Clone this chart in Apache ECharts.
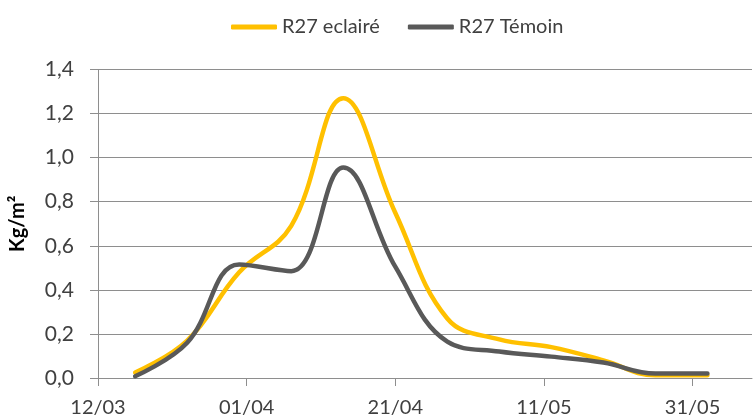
<!DOCTYPE html>
<html>
<head>
<meta charset="utf-8">
<script src="https://cdn.jsdelivr.net/npm/echarts@6/dist/echarts.min.js"></script>
<style>
html,body{margin:0;padding:0;background:#fff;}
#chart{width:753px;height:418px;}
</style>
</head>
<body>
<div id="chart"></div>
<script>
// Sampling dates (dd/mm)
const dates = ['17/03','24/03','31/03','07/04','14/04','21/04','28/04','05/05','12/05','19/05','26/05','02/06'];
// Series values (Kg/m²)
const eclaire = [0.025, 0.17, 0.48, 0.69, 1.27, 0.75, 0.27, 0.175, 0.14, 0.08, 0.012, 0.012];
const temoin  = [0.008, 0.16, 0.515, 0.485, 0.955, 0.505, 0.165, 0.12, 0.097, 0.07, 0.02, 0.02];
// X tick labels (every 20 days from 12/03)
const xTickLabels = ['12/03','01/04','21/04','11/05','31/05'];
const seriesNames = ['R27 eclairé','R27 Témoin'];

const origin = new Date(2013, 2, 12);
function dayOffset(s){
  const [d,m] = s.split('/').map(Number);
  return Math.round((new Date(2013, m-1, d) - origin) / 86400000);
}
const xs = dates.map(dayOffset);
const tickValues = xTickLabels.map(dayOffset);

const FONT = 'Lato';
const TXT = '#404040';
const GRID = '#8e8e8e';

const chart = echarts.init(document.getElementById('chart'), null, {renderer:'canvas'});
chart.setOption({
  animation:false,
  backgroundColor:'#fff',
  textStyle:{fontFamily:FONT},
  legend:{
    left:226, top:12,
    itemWidth:46, itemHeight:5, itemGap:28,
    icon:'roundRect',
    textStyle:{fontFamily:FONT, fontSize:20, color:TXT},
    data:seriesNames
  },
  grid:{left:92, top:69.5, right:1, bottom:40, containLabel:false},
  xAxis:{
    type:'value', min:0, max:88,
    axisLine:{show:true, lineStyle:{color:GRID, width:1}},
    axisTick:{show:true, length:8, customValues:tickValues, lineStyle:{color:GRID}},
    splitLine:{show:false},
    axisLabel:{
      customValues:tickValues,
      margin:20,
      fontFamily:FONT, fontSize:20, color:TXT,
      formatter:function(v){ const i = tickValues.indexOf(Math.round(v)); return i>=0 ? xTickLabels[i] : ''; }
    }
  },
  yAxis:{
    type:'value', min:0, max:1.4, interval:0.2,
    name:'Kg/m²', nameLocation:'middle', nameGap:70, nameRotate:90,
    nameTextStyle:{fontFamily:FONT, fontSize:20, fontWeight:'bold', color:'#000'},
    axisLine:{show:true, lineStyle:{color:GRID, width:1}},
    axisTick:{show:true, length:8, lineStyle:{color:GRID}},
    splitLine:{show:true, lineStyle:{color:GRID, width:1}},
    axisLabel:{
      margin:24, fontFamily:FONT, fontSize:21, color:TXT,
      formatter:function(v){ return v.toFixed(1).replace('.', ','); }
    }
  },
  series:[
    {name:seriesNames[0], type:'line', data:xs.map((x,i)=>[x,eclaire[i]]), smooth:0.4, symbol:'none',
     itemStyle:{color:'#FFC000'}, lineStyle:{color:'#FFC000', width:4.5, cap:'round', join:'round'}},
    {name:seriesNames[1], type:'line', data:xs.map((x,i)=>[x,temoin[i]]), smooth:0.4, symbol:'none',
     itemStyle:{color:'#595959'}, lineStyle:{color:'#595959', width:4.5, cap:'round', join:'round'}}
  ]
});
</script>
</body>
</html>
